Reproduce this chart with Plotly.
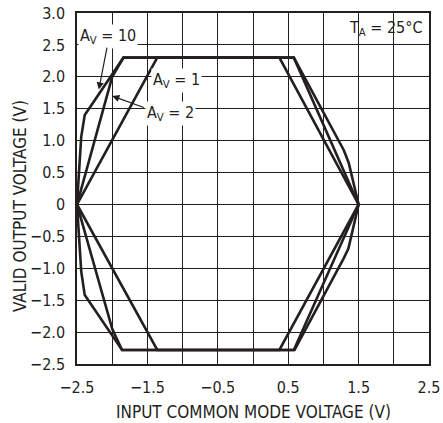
import plotly.graph_objects as go

# AV = 1 boundary
av1_x = [-2.5, -1.36, 0.375, 1.5, 0.375, -1.36, -2.5]
av1_y = [0, 2.3, 2.3, 0, -2.28, -2.28, 0]

# AV = 2 boundary
av2_x = [-2.5, -2.0, -1.84, 0.58, 1.5, 0.58, -1.86, -2.0, -2.5]
av2_y = [0, 2.0, 2.3, 2.3, 0, -2.28, -2.28, -1.95, 0]

# AV = 10 boundary
av10_x = [-2.5, -2.44, -2.39, -1.84, 0.58, 1.29, 1.36, 1.5, 1.355, 1.29, 0.59, -1.86, -2.39, -2.44, -2.5]
av10_y = [0, 1.06, 1.4, 2.3, 2.3, 0.85, 0.65, 0, -0.69, -0.84, -2.28, -2.28, -1.42, -1.05, 0]

x_ticks = [-2.5, -2.0, -1.5, -1.0, -0.5, 0.0, 0.5, 1.0, 1.5, 2.0, 2.5]
x_labels = ["\u22122.5", " ", "\u22121.5", " ", "\u22120.5", " ", "0.5", " ", "1.5", " ", "2.5"]
y_ticks = [-2.5, -2.0, -1.5, -1.0, -0.5, 0.0, 0.5, 1.0, 1.5, 2.0, 2.5, 3.0]
y_labels = ["\u22122.5", "\u22122.0", "\u22121.5", "\u22121.0", "\u22120.5", "0",
            "0.5", "1.0", "1.5", "2.0", "2.5", "3.0"]

FONT = "DejaVu Sans Condensed, Liberation Sans Narrow, Arial Narrow, Roboto, sans-serif"
INK = "#231f20"

fig = go.Figure()
for xs, ys in [(av1_x, av1_y), (av2_x, av2_y), (av10_x, av10_y)]:
    fig.add_trace(go.Scatter(x=xs, y=ys, mode="lines",
                             line=dict(color=INK, width=2.6),
                             showlegend=False, hoverinfo="skip"))

axis_common = dict(showgrid=True, gridcolor=INK, gridwidth=1,
                   zeroline=False, showline=True, linecolor=INK,
                   linewidth=1.5, mirror=True, ticks="", automargin=False,
                   tickfont=dict(family=FONT, size=16, color=INK))

fig.update_xaxes(range=[-2.5, 2.5], tickvals=x_ticks, ticktext=x_labels,
                 ticklabelstandoff=8, **axis_common)
fig.update_yaxes(range=[-2.5, 3.0], tickvals=y_ticks, ticktext=y_labels,
                 ticklabelstandoff=7, **axis_common)

title_font = dict(family=FONT, size=17, color=INK)
fig.add_annotation(xref="paper", yref="paper", x=0.5, y=-0.137, yanchor="middle",
                   text="INPUT COMMON MODE VOLTAGE (V)", showarrow=False, font=title_font)
fig.add_annotation(xref="paper", yref="paper", x=-0.162, y=0.45, xanchor="center",
                   text="VALID OUTPUT VOLTAGE (V)", showarrow=False, font=title_font,
                   textangle=-90)

ann_font = dict(family=FONT, size=16, color=INK)
fig.add_annotation(x=-2.48, y=2.63, xanchor="left", text="A<sub>V</sub> = 10",
                   showarrow=False, bgcolor="white", font=ann_font, borderpad=1)
fig.add_annotation(x=-1.45, y=1.95, xanchor="left", text="A<sub>V</sub> = 1",
                   showarrow=False, bgcolor="white", font=ann_font, borderpad=1)
fig.add_annotation(x=-1.54, y=1.42, xanchor="left", text="A<sub>V</sub> = 2",
                   showarrow=False, bgcolor="white", font=ann_font, borderpad=1)
fig.add_annotation(x=2.43, y=2.75, xanchor="right", text="T<sub>A</sub> = 25°C",
                   showarrow=False, font=ann_font)
# arrows
fig.add_annotation(x=-2.19, y=1.8, ax=-2.07, ay=2.48, xref="x", yref="y",
                   axref="x", ayref="y", text="", showarrow=True,
                   arrowhead=2, arrowsize=1.2, arrowwidth=1.2, arrowcolor=INK)
fig.add_annotation(x=-2.0, y=1.7, ax=-1.53, ay=1.51, xref="x", yref="y",
                   axref="x", ayref="y", text="", showarrow=True,
                   arrowhead=2, arrowsize=1.2, arrowwidth=1.2, arrowcolor=INK)

fig.update_layout(width=443, height=423, margin=dict(l=77, r=14, t=13, b=59),
                  plot_bgcolor="white", paper_bgcolor="white",
                  font=dict(family=FONT, color=INK))

fig.write_html("out.html", config={"displayModeBar": False},
               post_script="document.body.style.margin='0';document.body.style.overflow='hidden';")
